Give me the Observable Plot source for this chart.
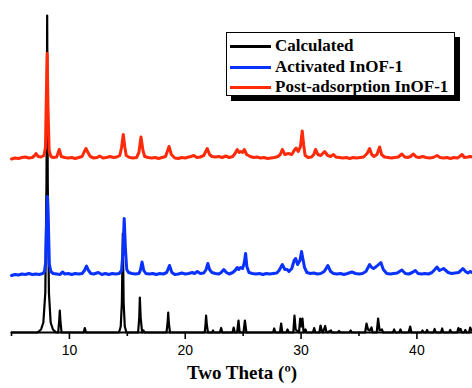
<!DOCTYPE html>
<html>
<head>
<meta charset="utf-8">
<script src="https://cdn.jsdelivr.net/npm/d3@7"></script>
<script src="https://cdn.jsdelivr.net/npm/@observablehq/plot@0.6"></script>
<style>
  html, body { margin: 0; padding: 0; background: #fff; overflow: hidden; }
  #wrap { position: relative; width: 472px; height: 388px; }
  #legend {
    position: absolute; left: 226px; top: 32px; width: 229px; height: 64px;
    border: 1px solid #000; background: #fff; box-shadow: 5px 5px 0 #000;
    box-sizing: border-box;
  }
  .row { position: absolute; left: 0; height: 20px; display: flex; align-items: center; }
  .sw { width: 41px; height: 3px; margin-left: 3px; margin-right: 4px; }
  .lab { font-family: "Liberation Serif", "Times New Roman", serif; font-weight: bold; font-size: 17px; line-height: 20px; color: #000; white-space: nowrap; }
</style>
</head>
<body>
<div id="wrap"></div>
<script>
// ---- data (two theta in degrees, intensity in arbitrary units, offsets included) ----
const seriesNames = ["Calculated", "Activated InOF-1", "Post-adsorption InOF-1"];
const seriesColors = ["#000000", "#0a32ff", "#ff2a0a"];
const majorTicks = [10, 20, 30, 40];
const minorTicks = [5, 15, 25, 35];
const xLabel = "Two Theta (º)";

const calculated = [
  [5,0],[7.25,0],[7.55,3],[7.75,10],[7.92,40],[8.02,150],[8.08,317],[8.13,150],[8.23,40],[8.38,10],[8.58,3],[8.85,0],
  [9.03,0],[9.12,12],[9.17,22],[9.22,12],[9.32,0],
  [11.23,0],[11.33,4.5],[11.43,0],
  [14.28,0],[14.43,6],[14.53,30],[14.61,99],[14.68,30],[14.78,6],[14.93,0],
  [15.93,0],[16.03,15],[16.08,35],[16.15,15],[16.28,0],[16.38,2],[16.5,0],
  [18.38,0],[18.48,10],[18.53,20],[18.58,10],[18.68,0],
  [21.68,0],[21.75,8],[21.8,17],[21.86,8],[21.96,0],[22.33,0],[22.4,2],[22.46,0],
  [22.98,0],[23.1,4.5],[23.2,0],
  [24.08,0],[24.18,5],[24.28,0],[24.48,0],[24.6,12],[24.7,0],[25.03,0],[25.15,12],[25.28,0],
  [27.58,0],[27.68,4],[27.78,0],[28.18,0],[28.28,9],[28.38,0],[28.73,0],[28.83,3],[28.93,0],
  [29.33,0],[29.43,17],[29.53,3],[29.82,0],[29.92,14],[30.02,6],[30.12,14],[30.22,0],[30.38,3],[30.48,0],
  [31.03,0],[31.13,4.5],[31.23,0],[31.58,0],[31.68,7],[31.78,2],[31.88,0],[32.08,6.5],[32.18,1],[32.28,0],[32.58,2],[32.68,0],
  [33.18,0],[33.28,1.5],[33.38,0],[34.18,0],[34.28,2],[34.38,0],
  [35.53,0],[35.65,9],[35.78,3],[35.93,2],[36.08,5],[36.18,0],[36.53,0],[36.65,14],[36.78,2],[36.98,3],[37.08,0],
  [37.93,0],[38.04,3],[38.13,0],[38.48,0],[38.58,3],[38.68,0],[39.28,0],[39.42,6],[39.53,0],
  [40.38,0],[40.48,2],[40.58,0],[40.78,0],[40.88,2.5],[40.98,0],[41.43,0],[41.53,3.5],[41.63,0],[42.08,0],[42.18,4],[42.28,0],
  [42.78,0],[42.88,2.5],[42.98,0],[43.48,0],[43.58,4.5],[43.68,2],[43.78,3.5],[43.88,0],[44.08,0],[44.18,2.5],[44.28,0],[44.5,0],[44.6,5],[44.7,2],[44.8,3]
];

const activated = [
  [5.0,57],[5.3,58],[5.6,57.5],[5.9,58.5],[6.2,58],[6.5,59],[6.8,58],[7.1,58.5],[7.4,58],[7.7,59],[7.85,61],[7.95,70],[8.05,120],[8.11,136],[8.18,110],[8.27,68],[8.4,61],[8.6,59],[8.9,58.5],[9.2,58],[9.4,60.5],[9.6,58.5],[9.9,59],[10.2,58],[10.5,59],[10.8,58.5],[11.1,59],[11.3,62],[11.48,66.5],[11.65,62],[11.85,59],[12.1,58.5],[12.5,60],[12.8,58],[13.1,59],[13.4,58],[13.7,59],[14.0,58.5],[14.3,59],[14.5,62],[14.62,80],[14.73,114],[14.83,85],[14.95,63],[15.1,60],[15.4,59],[15.7,58.5],[16.0,59],[16.12,62],[16.27,70.5],[16.42,62],[16.6,59],[16.9,58.5],[17.2,59],[17.5,58],[17.8,59],[18.1,58.5],[18.4,60],[18.64,67],[18.85,60],[19.1,58],[19.4,58.5],[19.7,59.5],[20.0,58.5],[20.3,59],[20.6,60],[20.8,59],[21.04,61],[21.3,59],[21.6,59.5],[21.8,63],[21.95,69],[22.1,63],[22.3,60],[22.6,59],[22.9,58.5],[23.1,60],[23.33,63],[23.55,60],[23.8,58.5],[24.1,60],[24.3,62],[24.49,65],[24.62,63],[24.77,65],[24.95,64],[25.1,70],[25.21,79],[25.32,66],[25.5,60],[25.8,59],[26.1,58.5],[26.4,59],[26.7,58],[27.0,59],[27.3,58.5],[27.6,59],[27.9,59.5],[28.1,62],[28.38,68],[28.6,63],[28.8,63],[28.95,61],[29.2,64],[29.4,72],[29.53,74],[29.7,68],[29.9,72],[30.04,81],[30.15,74],[30.3,65],[30.5,60],[30.8,59],[31.1,59.5],[31.4,58.5],[31.7,59],[32.0,61],[32.31,67],[32.55,61],[32.8,59],[33.1,58.5],[33.4,59],[33.7,58],[34.0,59],[34.39,60.5],[34.7,59],[35.0,58.5],[35.3,59],[35.6,61],[35.92,68],[36.1,65],[36.26,64],[36.5,66],[36.89,70],[37.1,63],[37.4,59],[37.7,58.5],[38.0,59],[38.3,59.5],[38.7,62.5],[39.0,59],[39.3,58.5],[39.6,60],[39.86,62],[40.1,59],[40.4,58.5],[40.7,59],[41.0,58.5],[41.3,60],[41.55,63],[41.73,65.5],[41.95,62],[42.3,64],[42.5,62],[42.7,60],[43.0,59],[43.3,59.5],[43.6,60],[43.8,62],[43.97,64],[44.2,61],[44.4,59.5],[44.6,61],[44.8,60]
];

const postAdsorption = [
  [5.0,173.5],[5.3,174.5],[5.6,174],[5.9,175],[6.2,175.5],[6.5,174.5],[6.8,175],[7.0,177],[7.12,179],[7.3,176],[7.55,175.5],[7.8,177],[7.93,185],[8.0,230],[8.08,279],[8.15,225],[8.25,182],[8.4,176],[8.6,175],[8.9,175.5],[9.12,183],[9.3,176],[9.6,175],[9.9,174.5],[10.2,175],[10.5,174],[10.8,175],[11.1,176],[11.25,180],[11.43,184],[11.6,180],[11.8,176],[12.1,174.5],[12.4,175],[12.6,176.5],[12.9,174.5],[13.2,175],[13.5,176],[13.8,175],[14.1,175.5],[14.35,177],[14.5,185],[14.65,198],[14.78,186],[14.9,177],[15.2,175],[15.5,174.5],[15.8,175],[16.0,180],[16.18,195.5],[16.35,182],[16.5,176],[16.8,175],[17.1,174.5],[17.4,175],[17.7,174],[18.0,175],[18.3,176],[18.6,186],[18.8,178],[19.1,174.5],[19.4,174],[19.7,175],[20.0,174.5],[20.3,175.5],[20.5,176],[20.74,177],[21.0,175],[21.3,175.5],[21.6,177],[21.9,184],[22.1,178],[22.3,176],[22.6,175.5],[22.9,176],[23.2,175],[23.5,176.5],[23.8,175],[24.1,176],[24.3,179],[24.49,183],[24.65,180],[24.78,181],[24.95,180],[25.1,183],[25.3,178],[25.6,176],[25.9,175],[26.2,175.5],[26.5,174.5],[26.8,175],[27.1,174],[27.4,174.5],[27.7,175],[28.0,176],[28.2,178],[28.38,183],[28.6,178],[28.9,179],[29.2,178],[29.4,182],[29.57,184.5],[29.75,181],[29.95,186],[30.1,201.5],[30.22,188],[30.35,177],[30.6,175],[30.9,175.5],[31.1,178],[31.25,183],[31.45,178],[31.7,177],[32.03,181],[32.3,177],[32.55,176],[32.8,178],[33.0,175.5],[33.3,175],[33.6,174.5],[33.9,175],[34.2,174],[34.5,175],[34.8,174.5],[35.1,175],[35.4,175.5],[35.7,179],[35.92,184],[36.1,178],[36.3,176],[36.55,178],[36.78,185.5],[36.95,178],[37.2,175.5],[37.5,175],[37.8,174.5],[38.1,175],[38.4,175.5],[38.7,178.5],[38.95,175.5],[39.2,175],[39.45,176],[39.7,178.5],[39.95,175.5],[40.2,175],[40.5,176],[40.8,175],[41.1,174.5],[41.4,175],[41.74,177],[42.0,175],[42.3,174.5],[42.6,175],[42.9,174],[43.2,175],[43.5,174.5],[43.7,176],[43.9,178],[44.1,175],[44.4,175.5],[44.6,176],[44.8,175.5]
];

// ---- chart ----
const seriesData = [calculated, activated, postAdsorption];
const widths = [2.2, 3, 3];
const sans = "'Liberation Sans', Arial, sans-serif";

const lineMarks = seriesData.map((d, i) =>
  Plot.line(d, {x: p => p[0], y: p => p[1], stroke: seriesColors[i], strokeWidth: widths[i], strokeLinejoin: "round", curve: "linear"})
);

const chart = Plot.plot({
  width: 472,
  height: 388,
  marginLeft: 11,
  marginRight: 0,
  marginTop: 12,
  marginBottom: 56,
  style: {fontFamily: sans, background: "#fff"},
  x: {domain: [5, 44.8]},
  y: {domain: [0, 320], axis: null},
  marks: [
    ...lineMarks,
    Plot.ruleY([0], {stroke: "#000", strokeWidth: 2}),
    Plot.axisX({ticks: minorTicks, tickSize: 4, tickFormat: () => "", strokeWidth: 1.6, label: null}),
    Plot.axisX({ticks: majorTicks, tickSize: 7, tickPadding: 6, fontSize: 14, strokeWidth: 1.6, label: null, tickFormat: d => String(d)}),
    Plot.text([xLabel], {frameAnchor: "bottom", dy: 46, fontSize: 19, fontWeight: "bold", fontFamily: "'Liberation Serif', 'Times New Roman', serif", fill: "#000"})
  ]
});

const wrap = document.getElementById("wrap");
wrap.appendChild(chart);

// legend
const legend = document.createElement("div");
legend.id = "legend";
const rowTops = [3, 24, 44];
seriesNames.forEach((name, i) => {
  const row = document.createElement("div");
  row.className = "row";
  row.style.top = rowTops[i] + "px";
  const sw = document.createElement("div");
  sw.className = "sw";
  sw.style.background = seriesColors[i];
  const lab = document.createElement("span");
  lab.className = "lab";
  lab.textContent = name;
  row.appendChild(sw);
  row.appendChild(lab);
  legend.appendChild(row);
});
wrap.appendChild(legend);
</script>
</body>
</html>
